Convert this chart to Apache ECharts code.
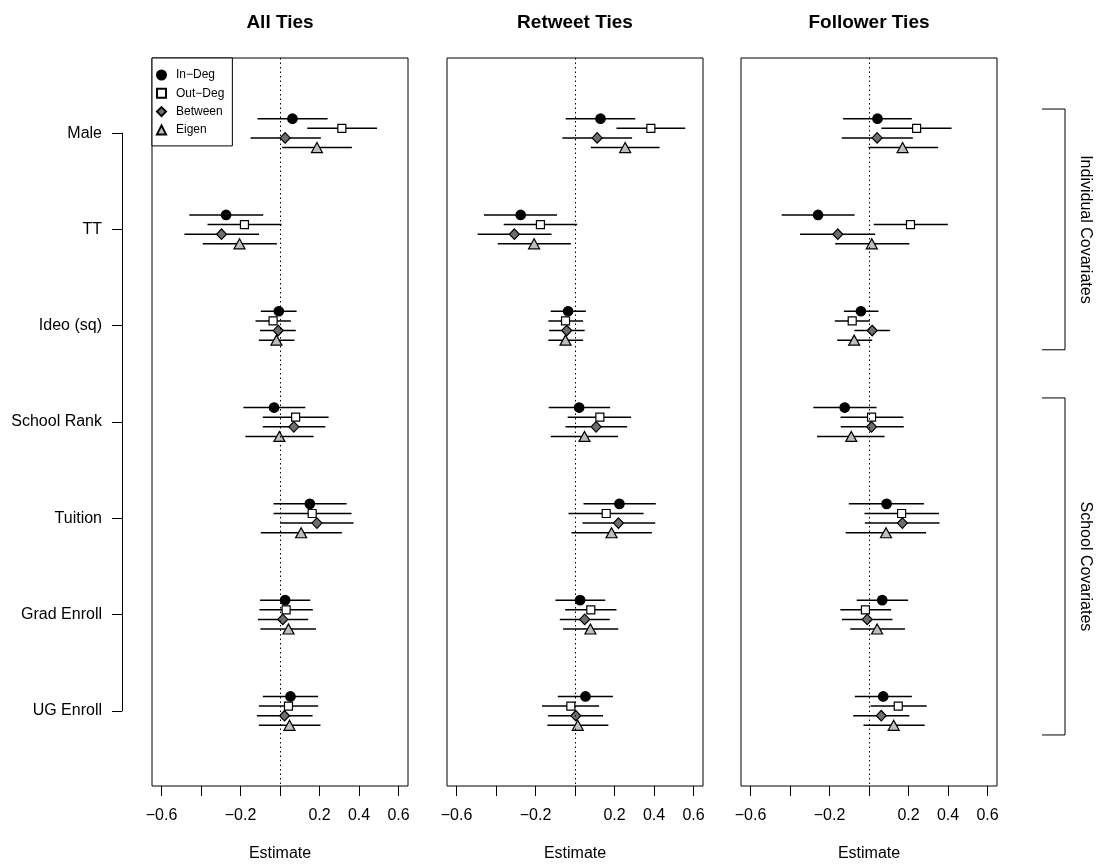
<!DOCTYPE html>
<html>
<head>
<meta charset="UTF-8">
<script src="https://cdn.jsdelivr.net/npm/echarts@6/dist/echarts.min.js"></script>
<style>
  html, body { margin: 0; padding: 0; background: #fff; }
  #main { width: 1097px; height: 867px; }
</style>
</head>
<body>
<div id="main"></div>
<script>
// covariates, top to bottom
var categories = ['Male', 'TT', 'Ideo (sq)', 'School Rank', 'Tuition', 'Grad Enroll', 'UG Enroll'];
var measures = ['In\u2212Deg', 'Out\u2212Deg', 'Between', 'Eigen'];
var panelTitles = ['All Ties', 'Retweet Ties', 'Follower Ties'];
var tickValues = [-0.6, -0.4, -0.2, 0, 0.2, 0.4, 0.6];
var labelValues = [-0.6, -0.2, 0.2, 0.4, 0.6];
var groups = ['Individual Covariates', 'School Covariates'];
var groupSpans = [[0.75, 3.25], [3.75, 7.25]];

// rows: In-Deg, Out-Deg, Between, Eigen ; columns follow categories
var allEst = [
  [0.063, -0.273, -0.006, -0.030, 0.151, 0.026, 0.053],
  [0.313, -0.180, -0.035, 0.079, 0.163, 0.031, 0.043],
  [0.026, -0.296, -0.009, 0.070, 0.187, 0.014, 0.023],
  [0.187, -0.205, -0.018, -0.003, 0.107, 0.043, 0.048]
];
var allLo = [
  [-0.114, -0.459, -0.097, -0.185, -0.033, -0.101, -0.087],
  [0.138, -0.367, -0.124, -0.087, -0.033, -0.104, -0.107],
  [-0.149, -0.484, -0.101, -0.087, 0.001, -0.112, -0.117],
  [0.011, -0.391, -0.107, -0.175, -0.097, -0.099, -0.107]
];
var allHi = [
  [0.241, -0.085, 0.084, 0.128, 0.337, 0.153, 0.193],
  [0.491, 0.008, 0.055, 0.246, 0.362, 0.166, 0.193],
  [0.207, -0.106, 0.080, 0.229, 0.372, 0.143, 0.165],
  [0.364, -0.016, 0.073, 0.170, 0.313, 0.182, 0.205]
];

var rtEst = [
  [0.129, -0.275, -0.035, 0.021, 0.225, 0.026, 0.053],
  [0.384, -0.175, -0.048, 0.126, 0.158, 0.080, -0.021],
  [0.112, -0.307, -0.042, 0.107, 0.220, 0.049, 0.004],
  [0.254, -0.207, -0.048, 0.048, 0.185, 0.078, 0.014]
];
var rtLo = [
  [-0.047, -0.461, -0.123, -0.133, 0.043, -0.099, -0.087],
  [0.210, -0.361, -0.135, -0.037, -0.033, -0.050, -0.167],
  [-0.064, -0.493, -0.131, -0.048, 0.038, -0.077, -0.136],
  [0.080, -0.391, -0.135, -0.123, -0.018, -0.060, -0.140]
];
var rtHi = [
  [0.305, -0.091, 0.055, 0.178, 0.409, 0.153, 0.192],
  [0.558, 0.011, 0.041, 0.284, 0.347, 0.210, 0.122],
  [0.289, -0.119, 0.049, 0.264, 0.406, 0.176, 0.142],
  [0.428, -0.021, 0.041, 0.218, 0.389, 0.219, 0.169]
];

var flEst = [
  [0.043, -0.258, -0.041, -0.123, 0.089, 0.067, 0.072],
  [0.241, 0.210, -0.085, 0.013, 0.165, -0.018, 0.148],
  [0.041, -0.158, 0.016, 0.013, 0.169, -0.009, 0.062],
  [0.170, 0.014, -0.075, -0.090, 0.086, 0.041, 0.125]
];
var flLo = [
  [-0.131, -0.442, -0.127, -0.282, -0.102, -0.062, -0.072],
  [0.063, 0.024, -0.173, -0.144, -0.023, -0.145, 0.008],
  [-0.138, -0.349, -0.074, -0.143, -0.021, -0.137, -0.080],
  [-0.003, -0.171, -0.161, -0.263, -0.118, -0.095, -0.028]
];
var flHi = [
  [0.217, -0.073, 0.048, 0.038, 0.278, 0.198, 0.217],
  [0.418, 0.399, 0.004, 0.174, 0.354, 0.112, 0.292],
  [0.222, 0.031, 0.107, 0.176, 0.357, 0.119, 0.204],
  [0.350, 0.204, 0.016, 0.079, 0.289, 0.182, 0.282]
];

var panels = [
  { est: allEst, lo: allLo, hi: allHi },
  { est: rtEst, lo: rtLo, hi: rtHi },
  { est: flEst, lo: flLo, hi: flHi }
];

// layout
var FONT = '"Liberation Sans", Arial, Helvetica, sans-serif';
var xMin = -0.648, xMax = 0.648;
var yMin = 0.22, yMax = 7.78;
var gridLefts = [152, 447, 741];
var gridTop = 58, gridW = 256, gridH = 728;
var rowOffset = [-0.15, -0.05, 0.05, 0.15];
var markers = [
  { symbol: 'circle', size: 9.5, color: '#000000' },
  { symbol: 'rect', size: 8, color: '#ffffff' },
  { symbol: 'diamond', size: [10, 10.5], color: '#6e6e6e' },
  { symbol: 'triangle', size: [11, 10], color: '#bebebe' }
];

function fmt(v) {
  var s = Math.abs(v).toFixed(1);
  return v < 0 ? '\u2212' + s : s;
}

var myChart = echarts.init(document.getElementById('main'), null, { renderer: 'canvas' });

var grids = [], xAxes = [], yAxes = [], titles = [], series = [];

panels.forEach(function (p, pi) {
  grids.push({ left: gridLefts[pi], top: gridTop, width: gridW, height: gridH,
    show: true, borderColor: '#000', borderWidth: 1, backgroundColor: 'transparent' });
  xAxes.push({
    type: 'value', gridIndex: pi, min: xMin, max: xMax, position: 'bottom',
    splitLine: { show: false },
    axisLine: { show: false },
    axisTick: { show: true, length: 10, customValues: tickValues, lineStyle: { color: '#000', width: 1 } },
    axisLabel: { customValues: labelValues, formatter: fmt, margin: 22,
      color: '#000', fontSize: 16, fontFamily: FONT },
    name: 'Estimate', nameLocation: 'middle', nameGap: 60,
    nameTextStyle: { color: '#000', fontSize: 16, fontFamily: FONT }
  });
  yAxes.push({ type: 'value', gridIndex: pi, min: yMin, max: yMax, inverse: true, show: false });
  titles.push({
    text: panelTitles[pi], left: gridLefts[pi] + gridW / 2, top: 13, textAlign: 'center', padding: 0,
    textStyle: { fontSize: 19, fontWeight: 'bold', color: '#000', fontFamily: FONT }
  });

  measures.forEach(function (m, mi) {
    var ci = [], pts = [];
    categories.forEach(function (c, ci_) {
      var y = ci_ + 1 + rowOffset[mi];
      ci.push([y, p.lo[mi][ci_], p.hi[mi][ci_]]);
      pts.push([p.est[mi][ci_], y]);
    });
    var ciSeries = {
      type: 'custom', name: m + ' CI', xAxisIndex: pi, yAxisIndex: pi, z: 2, silent: true,
      data: ci,
      encode: { x: [1, 2], y: 0 },
      renderItem: function (params, api) {
        var a = api.coord([api.value(1), api.value(0)]);
        var b = api.coord([api.value(2), api.value(0)]);
        return { type: 'line', shape: { x1: a[0], y1: a[1], x2: b[0], y2: b[1] },
          style: { stroke: '#000', lineWidth: 1.5 } };
      }
    };
    if (mi === 0) {
      ciSeries.markLine = {
        silent: true, symbol: 'none', label: { show: false },
        lineStyle: { color: '#000', width: 1, type: [1.5, 3] },
        data: [{ xAxis: 0 }]
      };
    }
    series.push(ciSeries);
    series.push({
      type: 'scatter', name: m, xAxisIndex: pi, yAxisIndex: pi, z: 3,
      symbol: markers[mi].symbol, symbolSize: markers[mi].size,
      itemStyle: { color: markers[mi].color, borderColor: '#000', borderWidth: 1.2, opacity: 1 },
      data: pts
    });
  });
});

// left covariate axis, spanning the first to the last category
var pxPerUnit = gridH / (yMax - yMin);
grids.push({ left: 122, top: gridTop + (1 - yMin) * pxPerUnit, width: 1,
  height: (categories.length - 1) * pxPerUnit, show: false });
xAxes.push({ type: 'value', gridIndex: 3, show: false });
yAxes.push({
  type: 'category', gridIndex: 3, data: categories, inverse: true, boundaryGap: false,
  axisLine: { show: true, lineStyle: { color: '#000', width: 1 } },
  axisTick: { show: true, length: 10, lineStyle: { color: '#000', width: 1 } },
  axisLabel: { margin: 20, color: '#000', fontSize: 16, fontFamily: FONT },
  splitLine: { show: false }
});

// group brackets on the right of the last panel
series.push({
  type: 'custom', xAxisIndex: 2, yAxisIndex: 2, silent: true, clip: false, z: 2,
  data: groupSpans.map(function (s, i) { return [s[0], s[1], i]; }),
  encode: { y: [0, 1] },
  renderItem: function (params, api) {
    var top = api.coord([xMax, api.value(0)]);
    var bot = api.coord([xMax, api.value(1)]);
    var xl = top[0] + 68, xs = top[0] + 45, xt = top[0] + 88;
    return {
      type: 'group',
      children: [
        { type: 'polyline', shape: { points: [[xs, top[1]], [xl, top[1]], [xl, bot[1]], [xs, bot[1]]] },
          style: { stroke: '#000', lineWidth: 1, fill: null } },
        { type: 'text', x: xt, y: (top[1] + bot[1]) / 2, rotation: -Math.PI / 2,
          style: { text: groups[api.value(2)], fontSize: 16, fontFamily: FONT, fill: '#000',
            align: 'center', verticalAlign: 'middle' } }
      ]
    };
  }
});

var option = {
  backgroundColor: '#ffffff',
  animation: false,
  title: titles,
  legend: {
    data: measures, left: 152, top: 58, orient: 'vertical', selectedMode: false,
    itemWidth: 9, itemHeight: 9, itemGap: 6.3, padding: [11, 8, 10, 4],
    borderColor: '#000', borderWidth: 1, backgroundColor: '#fff', z: 10,
    textStyle: { fontSize: 12, lineHeight: 9, color: '#000', fontFamily: FONT, padding: [0, 0, 0, 5] }
  },
  grid: grids,
  xAxis: xAxes,
  yAxis: yAxes,
  series: series
};

myChart.setOption(option);
</script>
</body>
</html>
